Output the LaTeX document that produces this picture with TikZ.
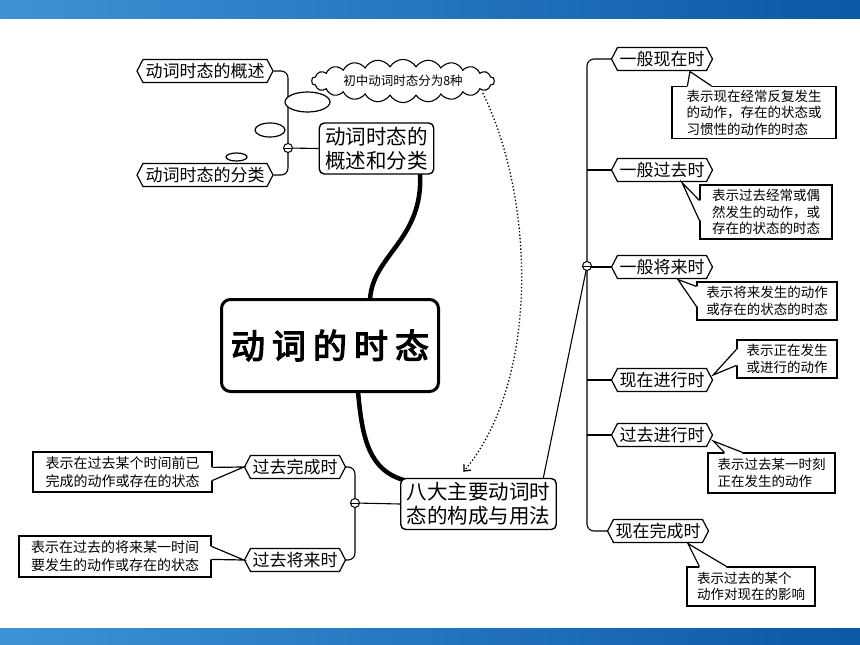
\documentclass[tikz,border=0pt]{standalone}
\usepackage{fontspec}
\newfontfamily\cjk{Noto Sans CJK SC}
\newfontfamily\cjkb[FakeBold=3.5]{Noto Sans CJK SC}
\usetikzlibrary{shapes.symbols,shapes.geometric,arrows.meta,calc}
\definecolor{barL}{HTML}{3D93D5}
\definecolor{barR}{HTML}{0A58A6}
\pgfdeclarelayer{back}
\pgfdeclarelayer{bg}
\pgfsetlayers{back,bg,main}
\newcommand\pinwedge[4]{%
  \fill[white] (#1) -- (#2) -- ($(#2)+(#4)$) -- ($(#3)+(#4)$) -- (#3) -- cycle;
  \draw[pinline] (#2) -- (#1) -- (#3);
}
\begin{document}
\begin{tikzpicture}[x=1pt,y=-1pt,
  hexa/.style={signal, signal to=west and east, signal pointer angle=125, draw,
    line width=1.2pt, fill=white, font=\cjk\fontsize{17}{18}\selectfont,
    inner xsep=2pt, inner ysep=1pt, minimum height=23pt},
  topic/.style={draw, line width=1.4pt, rounded corners=5pt, fill=white, align=center,
    font=\cjk\fontsize{20.5}{24}\selectfont, inner xsep=6pt, inner ysep=4pt},
  note/.style={draw, line width=1.2pt, fill=white, align=left,
    font=\cjk\fontsize{13.5}{16.5}\selectfont, inner sep=2pt},
  lnote/.style={note, font=\cjk\fontsize{14}{18}\selectfont},
  pinline/.style={line width=1.2pt},
  branch/.style={line width=1.1pt, rounded corners=7pt},
  knob/.style={circle, draw, fill=white, line width=1pt, minimum size=9pt, inner sep=0pt,
    path picture={\draw[line width=0.8pt] (path picture bounding box.west) -- (path picture bounding box.east);}},
  trunk/.style={line width=4.5pt, line cap=round},
  blob/.style={ellipse, draw, line width=1.2pt, fill=white, inner sep=0pt}
]
\useasboundingbox (0,0) rectangle (860,645);
\begin{pgfonlayer}{back}
  \fill[white] (0,0) rectangle (860,645);
  \shade[left color=barL, right color=barR] (0,0) rectangle (860,18);
  \shade[left color=barL, right color=barR] (0,628) rectangle (860,645);
\end{pgfonlayer}

% left upper group
\node[hexa, minimum width=136pt] (gs) at (205,71) {动词时态的概述};
\node[hexa, minimum width=136pt] (fl) at (205,175) {动词时态的分类};
\node[topic] (bz) at (376.5,148.5) {动词时态的\\概述和分类};
\node[knob] (knobL) at (288,148) {};
\node[blob, minimum width=45pt, minimum height=20pt] (e1) at (307.5,102) {};
\node[blob, minimum width=30pt, minimum height=14pt] (e2) at (270,130) {};
\node[blob, minimum width=21pt, minimum height=8pt] (e3) at (236.5,157) {};
\node[cloud, draw, line width=1.1pt, fill=white, cloud puffs=22, cloud puff arc=120,
  aspect=5.7, minimum width=183pt, minimum height=32pt, inner sep=0pt,
  font=\cjk\fontsize{12.5}{14}\selectfont] (cl) at (403,81) {初中动词时态分为8种};

% main
\node[draw, line width=3pt, rounded corners=9pt, minimum width=217pt, minimum height=92pt,
  fill=white, font=\cjkb\fontsize{34}{36}\selectfont] (main) at (330,345.5)
  {动\hspace{7pt}词\hspace{7pt}的\hspace{7pt}时\hspace{7pt}态};

% lower left group
\node[topic] (bd) at (478.5,504) {八大主要动词时\\态的构成与用法};
\node[knob] (knobB) at (355,503) {};
\node[hexa, minimum width=100pt] (gw) at (295,467) {过去完成时};
\node[hexa, minimum width=100pt] (gj) at (295,560) {过去将来时};
\node[lnote, minimum width=179pt, minimum height=40pt] (cw) at (122.5,472)
  {表示在过去某个时间前已\\完成的动作或存在的状态};
\node[lnote, minimum width=192pt, minimum height=41pt] (cj) at (115,556.5)
  {表示在过去的将来某一时间\\要发生的动作或存在的状态};

% right group
\node[knob] (knobR) at (587,266) {};
\node[hexa, minimum width=99pt] (r1) at (662,59) {一般现在时};
\node[hexa, minimum width=99pt] (r2) at (662,170) {一般过去时};
\node[hexa, minimum width=99pt] (r3) at (662,267) {一般将来时};
\node[hexa, minimum width=99pt] (r4) at (662,380) {现在进行时};
\node[hexa, minimum width=99pt] (r5) at (662,435) {过去进行时};
\node[hexa, minimum width=99pt] (r6) at (658,531) {现在完成时};

\node[note, minimum width=164pt, minimum height=52pt] (c1) at (754,112.5)
  {表示现在经常反复发生\\的动作，存在的状态或\\习惯性的动作的时态};
\node[note, minimum width=132pt, minimum height=54pt] (c2) at (766,212)
  {表示过去经常或偶\\然发生的动作，或\\存在的状态的时态};
\node[note, minimum width=140pt, minimum height=38pt] (c3) at (767,301)
  {表示将来发生的动作\\或存在的状态的时态};
\node[note, minimum width=100pt, minimum height=38pt] (c4) at (787,359)
  {表示正在发生\\或进行的动作};
\node[note, minimum width=127pt, minimum height=40pt] (c5) at (771.5,473)
  {表示过去某一时刻\\正在发生的动作};
\node[note, minimum width=128pt, minimum height=39pt] (c6) at (751,586.5)
  {表示过去的某个\\动作对现在的影响};

% callout wedges
\coordinate (t1) at ($(r1.south)+(28,0.5)$);
\coordinate (a1) at ($(c1.north west)+(16,0)$);
\coordinate (b1) at ($(c1.north west)+(40,0)$);
\pinwedge{t1}{a1}{b1}{0,2}
\coordinate (t2) at ($(r2.south)+(20,0.5)$);
\coordinate (a2) at ($(c2.north west)+(0,16)$);
\coordinate (b2) at ($(c2.north west)+(0,36)$);
\pinwedge{t2}{a2}{b2}{2,0}
\coordinate (t3) at ($(r3.south)+(16,0.5)$);
\coordinate (a3) at ($(c3.north west)+(0,5)$);
\coordinate (b3) at ($(c3.north west)+(0,25)$);
\pinwedge{t3}{a3}{b3}{2,0}
\coordinate (t4) at ($(r4.east)+(0,-5)$);
\coordinate (a4) at ($(c4.north west)+(0,10)$);
\coordinate (b4) at ($(c4.north west)+(0,26)$);
\pinwedge{t4}{a4}{b4}{2,0}
\coordinate (t5) at ($(r5.east)+(0,6)$);
\coordinate (a5) at ($(c5.north west)+(17,0)$);
\coordinate (b5) at ($(c5.north west)+(35,0)$);
\pinwedge{t5}{a5}{b5}{0,2}
\coordinate (t6) at ($(r6.south)+(30,0.5)$);
\coordinate (a6) at ($(c6.north west)+(13,0)$);
\coordinate (b6) at ($(c6.north west)+(40,0)$);
\pinwedge{t6}{a6}{b6}{0,2}
\coordinate (tw) at (gw.west);
\coordinate (aw) at ($(cw.north east)+(0,16)$);
\coordinate (bw) at ($(cw.north east)+(0,29)$);
\pinwedge{tw}{aw}{bw}{-2,0}
\coordinate (tj) at (gj.west);
\coordinate (aj) at ($(cj.north east)+(0,11)$);
\coordinate (bj) at ($(cj.north east)+(0,24)$);
\pinwedge{tj}{aj}{bj}{-2,0}

% connectors
\coordinate (clTail) at ($(cl.east)+(-12,12)$);
\coordinate (bdHead) at ($(bd.north)+(-15,-6)$);
\draw[line width=1.3pt, dash pattern=on 1.3pt off 2.2pt, -{Straight Barb[length=5pt,width=9pt]}]
  (clTail) .. controls (535,200) and (540,380) .. (bdHead);

\begin{pgfonlayer}{bg}
  \draw[branch] (gs.east) -| (knobL.center) |- (fl.east);
  \draw[branch] (knobL.center) -- (bz.west);
  \draw[branch] (r1.west) -| (knobR.center) |- (r6.west);
  \draw[branch] (r2.west) -- (r2.west -| knobR.center);
  \draw[branch] (r3.west) -- (r3.west -| knobR.center);
  \draw[branch] (r4.west) -- (r4.west -| knobR.center);
  \draw[branch] (r5.west) -- (r5.west -| knobR.center);
  \draw[branch] (bd.22) -- (knobR.center);
  \draw[branch] (gw.east) -| (knobB.center) |- (gj.east);
  \draw[branch] (knobB.center) -- (bd.west);
  \coordinate (bzFoot) at ($(bz.south)+(43.5,-2)$);
  \coordinate (mainTop) at ($(main.north)+(40,2)$);
  \coordinate (mainFoot) at ($(main.south)+(28,-2)$);
  \coordinate (bdCorner) at ($(bd.north west)+(3,2)$);
  \draw[trunk] (bzFoot) .. controls (424,240) and (372,255) .. (mainTop);
  \draw[trunk] (mainFoot) .. controls (362,440) and (370,470) .. (bdCorner);
\end{pgfonlayer}
\end{tikzpicture}
\end{document}
